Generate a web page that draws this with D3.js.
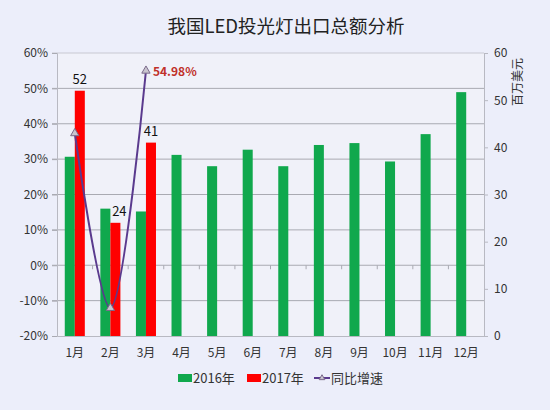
<!DOCTYPE html>
<html>
<head>
<meta charset="utf-8">
<script src="https://cdn.jsdelivr.net/npm/d3@7"></script>
<style>
  body { margin: 0; background: #eceefa; }
  text { font-family: "Noto Sans CJK SC", "Noto Sans", sans-serif; }
</style>
</head>
<body>
<div id="container"></div>
<script>
// data
let months = ["1月","2月","3月","4月","5月","6月","7月","8月","9月","10月","11月","12月"];
let values2016 = [38, 27, 26.4, 38.4, 36, 39.5, 36, 40.5, 40.9, 37, 42.8, 51.7];
let values2017 = [52, 24, 41];
let growth = [37.3, -12.1, 54.98];
let leftTicks = [-20, -10, 0, 10, 20, 30, 40, 50, 60];
let rightTicks = [0, 10, 20, 30, 40, 50, 60];
let seriesNames = ["2016年", "2017年", "同比增速"];

let w = 550;
let h = 410;
let plotLeft = 57, plotRight = 484, plotTop = 53, plotBottom = 336;

let green = "#10a84d";
let red = "#ff0000";
let purple = "#5a3a8e";

let viz = d3.select("#container").append("svg")
    .attr("width", w)
    .attr("height", h)
    .style("background-color", "#eceefa");

// plot area
viz.append("rect")
  .attr("x", plotLeft).attr("y", plotTop)
  .attr("width", plotRight - plotLeft).attr("height", plotBottom - plotTop)
  .attr("fill", "#f0f1f9");

// title
viz.append("text")
  .attr("x", 286).attr("y", 33)
  .attr("text-anchor", "middle")
  .style("font-size", "18.5px")
  .attr("fill", "#222")
  .text("我国LED投光灯出口总额分析");

let xScale = d3.scaleBand().domain(months).range([plotLeft, plotRight]).paddingInner(0).paddingOuter(0);
let xInner = d3.scaleBand().domain(["2016", "2017"]).range([0, xScale.bandwidth()]).paddingInner(0).paddingOuter(0.775);
let yLeft = d3.scaleLinear().domain([-20, 60]).range([plotBottom, plotTop]);
let yRight = d3.scaleLinear().domain([0, 60]).range([plotBottom, plotTop]);

// gridlines
viz.append("g").selectAll("line").data(leftTicks.filter(d => d > -20)).join("line")
  .attr("x1", plotLeft - 5).attr("x2", plotRight)
  .attr("y1", d => yLeft(d)).attr("y2", d => yLeft(d))
  .attr("stroke", d => d == 60 ? "#c8c9d2" : "#a9aab2")
  .attr("stroke-width", 1);

// left axis
let leftAxis = d3.axisLeft(yLeft).tickValues(leftTicks).tickFormat(d => d + "%").tickSize(5).tickPadding(4);
let leftGroup = viz.append("g").attr("transform", "translate(" + plotLeft + ",0)").call(leftAxis);
leftGroup.select(".domain").attr("stroke", "#b8b9c2");
leftGroup.selectAll("line").attr("stroke", "#a9aab2");
leftGroup.selectAll("text").style("font-size", "12px").attr("fill", "#333");

// right axis
let rightAxis = d3.axisRight(yRight).tickValues(rightTicks).tickSize(4).tickPadding(6);
let rightGroup = viz.append("g").attr("transform", "translate(" + plotRight + ",0)").call(rightAxis);
rightGroup.select(".domain").attr("stroke", "#b8b9c2");
rightGroup.selectAll("line").attr("stroke", "#b8b9c2");
rightGroup.selectAll("text").style("font-size", "12px").attr("fill", "#333");

viz.append("text")
  .attr("transform", "translate(522,82) rotate(-90)")
  .attr("text-anchor", "middle")
  .style("font-size", "12px")
  .attr("fill", "#333")
  .text("百万美元");

// bottom axis
let xAxis = d3.axisBottom(xScale).tickSize(0).tickPadding(12);
let xGroup = viz.append("g").attr("transform", "translate(0," + plotBottom + ")").call(xAxis);
xGroup.select(".domain").attr("stroke", "#b8b9c2");
xGroup.selectAll("text").style("font-size", "12px").attr("fill", "#333");

// small category ticks on the 0% line
viz.append("g").selectAll("line").data(months.slice(1)).join("line")
  .attr("x1", d => xScale(d)).attr("x2", d => xScale(d))
  .attr("y1", yLeft(0)).attr("y2", yLeft(0) + 4)
  .attr("stroke", "#a9aab2");

// bars
viz.append("g").selectAll("rect").data(values2016).join("rect")
  .attr("x", (d, i) => xScale(months[i]) + xInner("2016"))
  .attr("width", xInner.bandwidth())
  .attr("y", d => yRight(d))
  .attr("height", d => yRight(0) - yRight(d))
  .attr("fill", green);

viz.append("g").selectAll("rect").data(values2017).join("rect")
  .attr("x", (d, i) => xScale(months[i]) + xInner("2017"))
  .attr("width", xInner.bandwidth())
  .attr("y", d => yRight(d))
  .attr("height", d => yRight(0) - yRight(d))
  .attr("fill", red);

// labels on 2017 bars
let labelDx = [0, 4, 0];
viz.append("g").selectAll("text").data(values2017).join("text")
  .attr("x", (d, i) => xScale(months[i]) + xInner("2017") + xInner.bandwidth() / 2 + labelDx[i])
  .attr("y", d => yRight(d) - 7)
  .attr("text-anchor", "middle")
  .style("font-size", "13px")
  .attr("fill", "#111")
  .text(d => d);

// growth line
let line = d3.line()
  .x((d, i) => xScale(months[i]) + xScale.bandwidth() / 2)
  .y(d => yLeft(d))
  .curve(d3.curveCatmullRom.alpha(0.5));

viz.append("path")
  .datum(growth)
  .attr("d", line)
  .attr("fill", "none")
  .attr("stroke", purple)
  .attr("stroke-width", 2);

viz.append("g").selectAll("path").data(growth).join("path")
  .attr("d", d3.symbol().type(d3.symbolTriangle).size(30))
  .attr("transform", (d, i) => "translate(" + (xScale(months[i]) + xScale.bandwidth() / 2) + "," + yLeft(d) + ")")
  .attr("fill", "#c9c4cf")
  .attr("stroke", "#7a6a8a")
  .attr("stroke-width", 1);

viz.append("text")
  .attr("x", xScale(months[2]) + xScale.bandwidth() / 2 + 7)
  .attr("y", yLeft(growth[2]) + 5)
  .style("font-size", "12px")
  .style("font-weight", "bold")
  .attr("fill", "#c0302a")
  .text(growth[2].toFixed(2) + "%");

// legend
let legend = viz.append("g").attr("transform", "translate(0,378)");
legend.append("rect").attr("x", 178).attr("y", -4).attr("width", 14).attr("height", 8).attr("fill", green);
legend.append("text").attr("x", 193).attr("y", 5).style("font-size", "13px").attr("fill", "#333").text(seriesNames[0]);
legend.append("rect").attr("x", 247).attr("y", -4).attr("width", 14).attr("height", 8).attr("fill", red);
legend.append("text").attr("x", 262).attr("y", 5).style("font-size", "13px").attr("fill", "#333").text(seriesNames[1]);
legend.append("line").attr("x1", 314).attr("x2", 330).attr("y1", 0).attr("y2", 0).attr("stroke", purple).attr("stroke-width", 2);
legend.append("path").attr("d", d3.symbol().type(d3.symbolTriangle).size(14)).attr("transform", "translate(322,0)")
  .attr("fill", "#c9c4cf").attr("stroke", "#7a6a8a");
legend.append("text").attr("x", 331).attr("y", 5).style("font-size", "13px").attr("fill", "#333").text(seriesNames[2]);
</script>
</body>
</html>
